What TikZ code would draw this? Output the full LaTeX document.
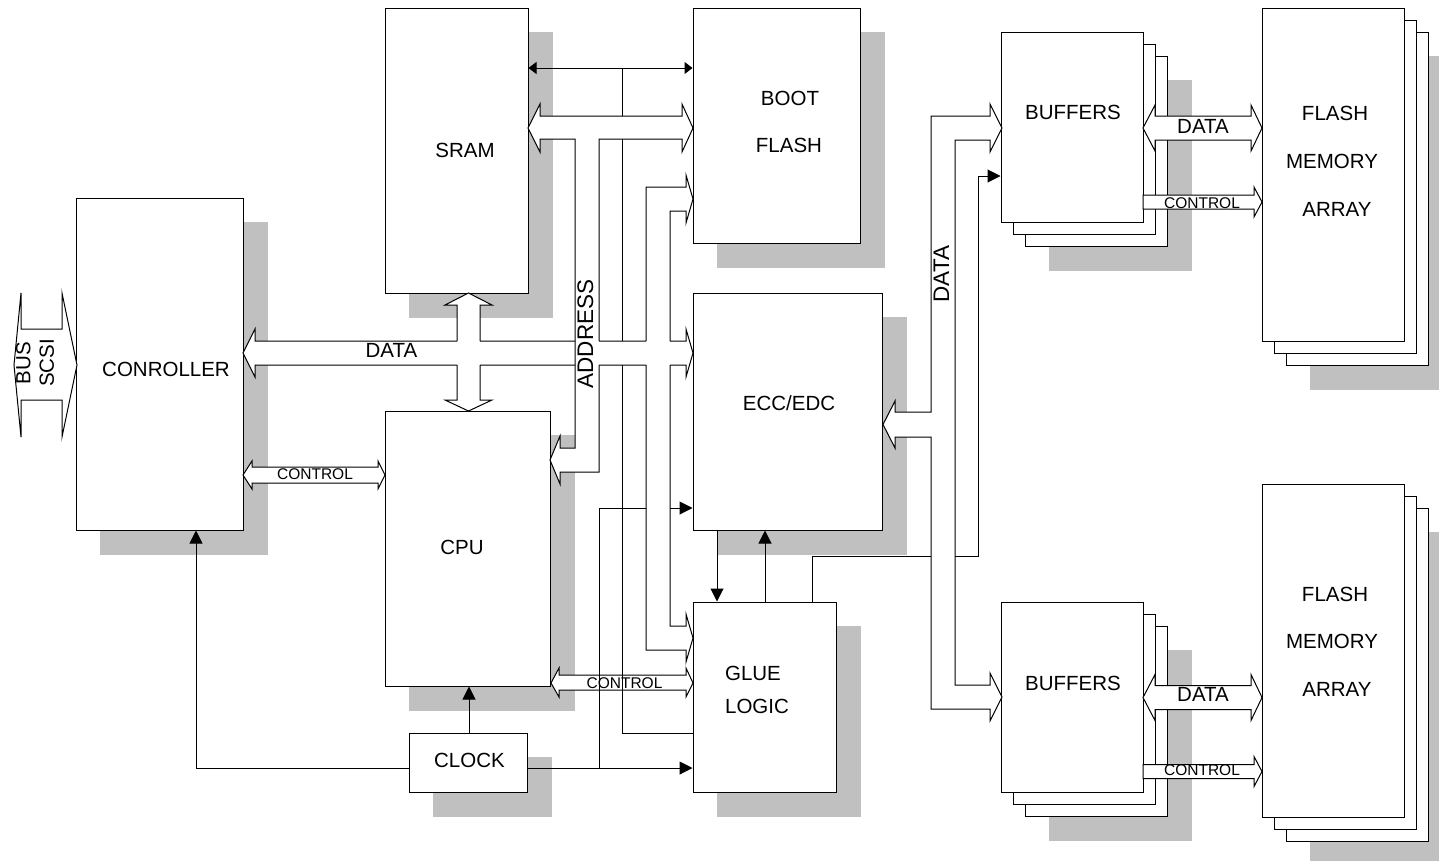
\documentclass[tikz,border=0pt]{standalone}
\usepackage{fontspec}
\setmainfont{Liberation Sans}
\usetikzlibrary{arrows.meta,backgrounds,calc}
\definecolor{shadowgrey}{HTML}{C0C0C0}
\begin{document}
\begin{tikzpicture}[x=1pt,y=-1pt,line width=1pt,
  box/.style={draw,fill=white,inner sep=0pt},
  lbl/.style={inner sep=0pt,font=\fontsize{20.5}{24}\selectfont,text height=14.7pt,text depth=0pt},
  vlbl/.style={inner sep=0pt,font=\fontsize{22.5}{26}\selectfont,text height=16.1pt,text depth=0pt,rotate=90},
  sml/.style={inner sep=0pt,font=\fontsize{15.5}{18}\selectfont,text height=11.1pt,text depth=0pt},
  arr/.style={-{Triangle[length=13pt,width=13pt]}},
  darr/.style={{Triangle[length=8pt,width=12pt]}-{Triangle[length=8pt,width=12pt]}},
  busfill/.style={fill=white,draw=none},
  blockarrow/.style={draw,fill=white},
  dropshadow/.style={fill=shadowgrey,draw=none}]
\useasboundingbox (0,0) rectangle (1439,860);

% ---------- boxes ----------
\node[box,minimum width=167pt,minimum height=332pt] (ctrl) at (159.5,364) {};
\node[box,minimum width=143pt,minimum height=285pt] (sram) at (456.5,150.5) {};
\node[box,minimum width=167pt,minimum height=235pt] (boot) at (776.5,125.5) {};
\node[box,minimum width=189pt,minimum height=237pt] (ecc) at (787.5,411.5) {};
\node[box,minimum width=165pt,minimum height=275pt] (cpu) at (467.5,548.5) {};
\node[box,minimum width=143pt,minimum height=190pt] (glue) at (764.5,697) {};
\node[box,minimum width=118pt,minimum height=59pt] (clock) at (468,762.5) {};

% stacked buffers
\node[box,minimum width=142pt,minimum height=190pt] (buf1c) at (1096,151) {};
\node[box,minimum width=142pt,minimum height=190pt] (buf1b) at (1084,139) {};
\node[box,minimum width=142pt,minimum height=190pt] (buf1) at (1072,127) {};
\node[box,minimum width=142pt,minimum height=190pt] (buf2c) at (1096,721) {};
\node[box,minimum width=142pt,minimum height=190pt] (buf2b) at (1084,709) {};
\node[box,minimum width=142pt,minimum height=190pt] (buf2) at (1072,697) {};
% stacked flash arrays
\node[box,minimum width=142pt,minimum height=333pt] (flash1c) at (1357,198.5) {};
\node[box,minimum width=142pt,minimum height=333pt] (flash1b) at (1345,186.5) {};
\node[box,minimum width=142pt,minimum height=333pt] (flash1) at (1333,174.5) {};
\node[box,minimum width=142pt,minimum height=333pt] (flash2c) at (1357,674.5) {};
\node[box,minimum width=142pt,minimum height=333pt] (flash2b) at (1345,662.5) {};
\node[box,minimum width=142pt,minimum height=333pt] (flash2) at (1333,650.5) {};

% ---------- shadows ----------
\begin{scope}[on background layer]
\foreach \n in {ctrl,sram,boot,ecc,cpu,glue,clock}{
  \fill[dropshadow] ([shift={(24,24)}]\n.north west) rectangle ([shift={(24,24)}]\n.south east);}
\foreach \n in {buf1,buf2,flash1,flash2}{
  \fill[dropshadow] ([shift={(48,48)}]\n.north west) rectangle ([shift={(48,48)}]\n.south east);}
\end{scope}

% ---------- CONTROL block arrows ----------
\draw[blockarrow] (243,475) -- (252,461) -- (252,467) -- (378,467) -- (378,461) -- (385,475) -- (378,489) -- (378,483) -- (252,483) -- (252,489) -- cycle;
\draw[blockarrow] (551,683) -- (559,668) -- (559,675) -- (686,675) -- (686,668) -- (693,683) -- (686,697) -- (686,690) -- (559,690) -- (559,697) -- cycle;

% ---------- thin connectors ----------
\draw[darr] (sram.east |- 0,68) -- (boot.west |- 0,68);
\draw (622,68) |- (glue.west |- 0,733);
\draw[arr] (clock.east |- 0,768) -- (glue.west |- 0,768);
\draw[arr] (599,768) |- (ecc.west |- 0,508);
\draw[arr] (clock.west |- 0,768) -| (196,0 |- ctrl.south);
\draw[arr] (469,0 |- clock.north) -- (469,0 |- cpu.south);
\draw[arr] (717,0 |- ecc.south) -- (717,0 |- glue.north);
\draw[arr] (765,0 |- glue.north) -- (765,0 |- ecc.south);
\draw[arr] (812,0 |- glue.north) |- (978,556) |- (buf1.west |- 0,176);

% ---------- central bus network: fills ----------
\fill[busfill] (540,116) -- (540,104) -- (528,128) -- (540,152) -- (540,139) -- (575,139) -- (575,448) -- (560,448) -- (560,436) -- (550,460) -- (560,484) -- (560,472) -- (599,472) -- (599,139) -- (682,139) -- (682,152) -- (693,128) -- (682,104) -- (682,116) -- cycle;
\fill[busfill] (243,353) -- (255,329) -- (255,341) -- (686,341) -- (686,329) -- (693,353) -- (686,377) -- (686,365) -- (255,365) -- (255,377) -- cycle;
\fill[busfill] (468.5,293) -- (492,305) -- (480,305) -- (480,400) -- (492,400) -- (468.5,411) -- (445,400) -- (457,400) -- (457,305) -- (445,305) -- cycle;
\fill[busfill] (693,199) -- (686,223) -- (686,211) -- (670,211) -- (670,626) -- (686,626) -- (686,614) -- (693,638) -- (686,662) -- (686,650) -- (646,650) -- (646,187) -- (686,187) -- (686,175) -- cycle;

% ---------- central bus network: outlines ----------
\draw (599,365) -- (599,472) -- (560,472) -- (560,484) -- (550,460) -- (560,436) -- (560,448) -- (575,448) -- (575,139) -- (540,139) -- (540,152) -- (528,128) -- (540,104) -- (540,116) -- (682,116) -- (682,104) -- (693,128) -- (682,152) -- (682,139) -- (599,139) -- (599,341);
\draw (457,341) -- (255,341) -- (255,329) -- (243,353) -- (255,377) -- (255,365) -- (457,365);
\draw (480,341) -- (575,341) (599,341) -- (646,341) (670,341) -- (686,341) -- (686,329) -- (693,353) -- (686,377) -- (686,365) -- (670,365) (646,365) -- (599,365) (575,365) -- (480,365);
\draw (457,341) -- (457,305) -- (445,305) -- (468.5,293) -- (492,305) -- (480,305) -- (480,341);
\draw (457,365) -- (457,400) -- (445,400) -- (468.5,411) -- (492,400) -- (480,400) -- (480,365);
\draw (670,341) -- (670,211) -- (686,211) -- (686,223) -- (693,199) -- (686,175) -- (686,187) -- (646,187) -- (646,341);
\draw (646,365) -- (646,650) -- (686,650) -- (686,662) -- (693,638) -- (686,614) -- (686,626) -- (670,626) -- (670,365);

% ---------- right data bus ----------
\draw[blockarrow] (990,116) -- (931,116) -- (931,412) -- (895,412) -- (895,401) -- (883,424.5) -- (895,448) -- (895,437) -- (931,437) -- (931,709) -- (990,709) -- (990,721) -- (1002,697) -- (990,673) -- (990,685) -- (955,685) -- (955,140) -- (990,140) -- (990,152) -- (1002,128) -- (990,104) -- cycle;

% ---------- SCSI bus ----------
\draw[blockarrow] (14,365) -- (21,293) -- (21,329) -- (62,329) -- (62,293) -- (77,365) -- (62,437) -- (62,400) -- (21,400) -- (21,437) -- cycle;

% ---------- buffers <-> flash ----------
\foreach \dy in {0,569.5}{
\begin{scope}[shift={(0,\dy)}]
\draw[blockarrow] (1143,128) -- (1155,105) -- (1155,116) -- (1251,116) -- (1251,105) -- (1262,128) -- (1251,151) -- (1251,140) -- (1155,140) -- (1155,151) -- cycle;
\draw[blockarrow] (1143,195) -- (1254,195) -- (1254,187) -- (1262,202) -- (1254,217) -- (1254,209) -- (1143,209) -- cycle;
\end{scope}}

% ---------- labels ----------
\node[lbl] (lsram) at (465,150) {SRAM};
\node[lbl] (lboot1) at (790,98) {BOOT};
\node[lbl] (lboot2) at (789,145) {FLASH};
\node[lbl] (lctrl) at (166,369) {CONROLLER};
\node[lbl] (lecc) at (789,403) {ECC/EDC};
\node[lbl] (lcpu) at (462,547) {CPU};
\node[lbl] (lglue1) at (753,673) {GLUE};
\node[lbl] (lglue2) at (757,706) {LOGIC};
\node[lbl] (lclock) at (469.5,760) {CLOCK};
\node[lbl] (lbuf1) at (1073,112) {BUFFERS};
\node[lbl] (lbuf2) at (1073,683) {BUFFERS};
\node[lbl] (lfa1) at (1335,113.5) {FLASH};
\node[lbl] (lfb1) at (1332,161) {MEMORY};
\node[lbl] (lfc1) at (1337,209.5) {ARRAY};
\node[lbl] (lfa2) at (1335,594) {FLASH};
\node[lbl] (lfb2) at (1332,641) {MEMORY};
\node[lbl] (lfc2) at (1337,689) {ARRAY};
\node[lbl] (ldata1) at (1203,126) {DATA};
\node[lbl] (ldata2) at (1203,694.5) {DATA};
\node[lbl] (ldatam) at (391.5,350) {DATA};
\node[sml] (lctl1) at (1202,202.5) {CONTROL};
\node[sml] (lctl2) at (1202,770) {CONTROL};
\node[sml] (lctl3) at (315,473.5) {CONTROL};
\node[sml] (lctl4) at (624.5,682.5) {CONTROL};
\node[vlbl] (laddr) at (585,334) {ADDRESS};
\node[vlbl] (ldatav) at (941,274) {DATA};
\node[lbl,rotate=90] (lbus) at (23,363) {BUS};
\node[lbl,rotate=90] (lscsi) at (46.5,363) {SCSI};
\end{tikzpicture}
\end{document}
